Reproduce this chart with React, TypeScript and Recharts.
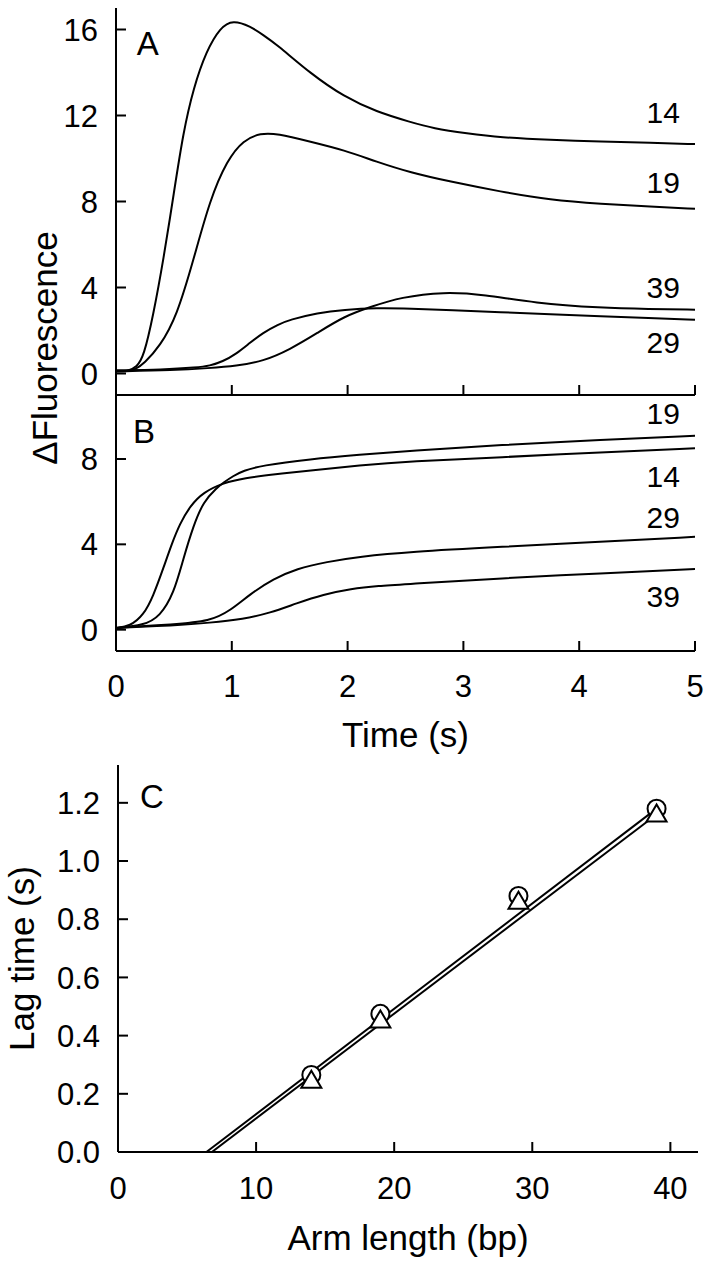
import React from 'react';
import { LineChart, Line, XAxis, YAxis, ReferenceDot, ComposedChart, Scatter } from 'recharts';

const FONT = '"Liberation Sans", Arial, Helvetica, sans-serif';

// ---------- Panel A (time in s, ΔFluorescence) ----------
const tA14 = [0, 0.1, 0.18, 0.24, 0.32, 0.41, 0.5, 0.58, 0.67, 0.78, 0.9, 1.01, 1.16, 1.27, 1.39, 1.68, 1.97, 2.25, 2.54, 2.74, 3.03, 3.32, 3.75, 4.19, 4.62, 5.0];
const fA14 = [0.1, 0.1, 0.3, 0.8, 2.66, 5.3, 8.4, 11.2, 13.3, 15.0, 16.1, 16.45, 16.15, 15.75, 15.3, 13.95, 12.87, 12.17, 11.7, 11.4, 11.17, 10.98, 10.86, 10.78, 10.73, 10.67];

const tA19 = [0, 0.1, 0.17, 0.24, 0.38, 0.525, 0.67, 0.81, 0.96, 1.1, 1.25, 1.39, 1.68, 1.97, 2.25, 2.54, 2.89, 3.32, 3.75, 4.19, 4.62, 5.0];
const fA19 = [0.1, 0.1, 0.2, 0.45, 1.27, 2.66, 5.3, 8.07, 9.93, 10.86, 11.18, 11.16, 10.78, 10.39, 9.85, 9.35, 8.92, 8.46, 8.07, 7.89, 7.76, 7.66];

const tA29 = [0, 0.4, 0.7, 0.81, 0.92, 1.04, 1.15, 1.27, 1.4, 1.5, 1.74, 1.97, 2.25, 2.54, 2.9, 3.32, 3.75, 4.19, 4.6, 5.0];
const fA29 = [0.15, 0.18, 0.28, 0.36, 0.55, 0.92, 1.4, 1.9, 2.28, 2.5, 2.82, 2.97, 3.05, 3.02, 2.95, 2.85, 2.75, 2.66, 2.58, 2.5];

const tA39 = [0, 0.5, 0.8, 1.04, 1.27, 1.5, 1.74, 1.97, 2.2, 2.46, 2.83, 3.18, 3.61, 4.19, 4.6, 5.0];
const fA39 = [0.1, 0.15, 0.25, 0.35, 0.57, 1.11, 1.89, 2.66, 3.1, 3.55, 3.8, 3.67, 3.28, 3.05, 3.0, 2.97];

// ---------- Panel B ----------
const tB14 = [0, 0.12, 0.24, 0.32, 0.41, 0.48, 0.55, 0.64, 0.755, 0.93, 1.1, 1.4, 1.68, 2.1, 2.54, 3.32, 4.19, 5];
const fB14 = [0.08, 0.15, 0.7, 1.55, 2.9, 4.0, 4.95, 5.8, 6.45, 6.88, 7.1, 7.3, 7.46, 7.7, 7.89, 8.08, 8.31, 8.5];

const tB19 = [0, 0.24, 0.38, 0.5, 0.58, 0.67, 0.755, 0.87, 0.93, 1.01, 1.1, 1.25, 1.68, 2.1, 2.54, 3.32, 4.19, 5];
const fB19 = [0.08, 0.2, 0.62, 1.71, 3.3, 4.9, 6.0, 6.65, 6.9, 7.2, 7.45, 7.69, 8.0, 8.2, 8.39, 8.66, 8.89, 9.09];

const tB29 = [0, 0.5, 0.81, 0.99, 1.16, 1.36, 1.56, 1.82, 2.1, 2.54, 3.32, 4.19, 5];
const fB29 = [0.08, 0.25, 0.39, 0.9, 1.68, 2.38, 2.86, 3.18, 3.42, 3.65, 3.88, 4.12, 4.35];

const tB39 = [0, 0.5, 0.81, 1.1, 1.33, 1.56, 1.79, 2.03, 2.26, 2.54, 3.32, 4.19, 5];
const fB39 = [0.08, 0.2, 0.32, 0.5, 0.78, 1.24, 1.65, 1.92, 2.05, 2.14, 2.41, 2.64, 2.84];

// ---------- Panel C ----------
const armLength = [14, 19, 29, 39];
const lagCircle = [0.265, 0.475, 0.88, 1.18];
const lagTriangle = [0.245, 0.452, 0.86, 1.16];
const fitCircleX = [6.4, 39];
const fitCircleY = [0, 1.18];
const fitTriangleX = [6.8, 39];
const fitTriangleY = [0, 1.16];

// ---------- ticks & labels ----------
const timeTicks = [0, 1, 2, 3, 4, 5];
const fluoTicksA = [0, 4, 8, 12, 16];
const fluoTicksB = [0, 4, 8];
const armTicks = [0, 10, 20, 30, 40];
const lagTicks = [0, 0.2, 0.4, 0.6, 0.8, 1.0, 1.2];

const labelsA = [
  { text: '14', t: 4.87, v: 11.65 },
  { text: '19', t: 4.87, v: 8.4 },
  { text: '39', t: 4.87, v: 3.53 },
  { text: '29', t: 4.87, v: 0.97 },
];
const labelsB = [
  { text: '19', t: 4.87, v: 9.65 },
  { text: '14', t: 4.87, v: 6.67 },
  { text: '29', t: 4.87, v: 4.76 },
  { text: '39', t: 4.87, v: 1.07 },
];

const zipTV = (ts: number[], vs: number[]) => ts.map((t, i) => ({ t, v: vs[i] }));
const zipXY = (xs: number[], ys: number[]) => xs.map((x, i) => ({ x, y: ys[i] }));

const seriesA = [zipTV(tA14, fA14), zipTV(tA19, fA19), zipTV(tA29, fA29), zipTV(tA39, fA39)];
const seriesB = [zipTV(tB14, fB14), zipTV(tB19, fB19), zipTV(tB29, fB29), zipTV(tB39, fB39)];

const circleData = zipXY(armLength, lagCircle);
const triangleData = zipXY(armLength, lagTriangle);
const fitCircle = zipXY(fitCircleX, fitCircleY);
const fitTriangle = zipXY(fitTriangleX, fitTriangleY);

const AX = { stroke: '#000', strokeWidth: 2 };

const makeXTick = (showLabel: boolean, labelDy: number) => (p: any) => (
  <g>
    <line x1={p.x} y1={p.y} x2={p.x} y2={p.y - 10} stroke="#000" strokeWidth={2} />
    {showLabel && (
      <text x={p.x} y={p.y + labelDy} textAnchor="middle" fontSize={31} fontFamily={FONT} fill="#000">
        {p.payload.value}
      </text>
    )}
  </g>
);

const makeYTick = (fmt: (v: number) => string) => (p: any) => (
  <g>
    <line x1={p.x} y1={p.y} x2={p.x + 10} y2={p.y} stroke="#000" strokeWidth={2} />
    <text x={p.x - 18} y={p.y} dy="0.36em" textAnchor="end" fontSize={31} fontFamily={FONT} fill="#000">
      {fmt(p.payload.value)}
    </text>
  </g>
);

const TextLabel = (props: any) => {
  const { viewBox, value, anchor, size } = props;
  return (
    <text x={viewBox.x} y={viewBox.y} textAnchor={anchor} fontSize={size} fontFamily={FONT} fill="#000">
      {value}
    </text>
  );
};

const TITLE = 35;

export default function App() {
  return (
    <div style={{ position: 'absolute', left: 0, top: 0, width: 711, height: 1268, background: '#fff' }}>
      {/* Panel A */}
      <div style={{ position: 'absolute', left: 0, top: 0 }}>
        <LineChart width={711} height={400} margin={{ top: 8, right: 16, bottom: 0, left: 0 }}>
          <XAxis dataKey="t" type="number" domain={[0, 5]} ticks={timeTicks} interval={0}
            height={5} tickSize={0} tickMargin={0} tickLine={false} axisLine={AX}
            tick={makeXTick(false, 0)} allowDataOverflow />
          <XAxis xAxisId="top" orientation="top" type="number" domain={[0, 5]} height={0}
            tick={false} tickLine={false} axisLine={AX} />
          <YAxis type="number" domain={[-1, 17]} ticks={fluoTicksA} interval={0} width={116}
            tickSize={0} tickMargin={0} tickLine={false} axisLine={AX} tick={makeYTick((v) => String(v))} allowDataOverflow />
          <YAxis yAxisId="right" orientation="right" type="number" domain={[-1, 17]} width={0}
            tick={false} tickLine={false} axisLine={AX} />
          {seriesA.map((d, i) => (
            <Line key={i} data={d} dataKey="v" type="basis" stroke="#000" strokeWidth={2}
              dot={false} activeDot={false} isAnimationActive={false} />
          ))}
          {labelsA.map((l) => (
            <ReferenceDot key={l.text} x={l.t} y={l.v} r={0} fill="none" stroke="none"
              label={<TextLabel value={l.text} anchor="end" size={30} />} />
          ))}
          <ReferenceDot x={0.18} y={14.8} r={0} fill="none" stroke="none"
            label={<TextLabel value="A" anchor="start" size={33} />} />
        </LineChart>
      </div>

      {/* Panel B */}
      <div style={{ position: 'absolute', left: 0, top: 395 }}>
        <LineChart width={711} height={365} margin={{ top: 0, right: 16, bottom: 0, left: 0 }}>
          <XAxis dataKey="t" type="number" domain={[0, 5]} ticks={timeTicks} interval={0}
            height={109} tickSize={0} tickMargin={0} tickLine={false} axisLine={AX}
            tick={makeXTick(true, 46)} allowDataOverflow />
          <YAxis type="number" domain={[-1, 11]} ticks={fluoTicksB} interval={0} width={116}
            tickSize={0} tickMargin={0} tickLine={false} axisLine={AX} tick={makeYTick((v) => String(v))} allowDataOverflow />
          <YAxis yAxisId="right" orientation="right" type="number" domain={[-1, 11]} width={0}
            tick={false} tickLine={false} axisLine={AX} />
          {seriesB.map((d, i) => (
            <Line key={i} data={d} dataKey="v" type="basis" stroke="#000" strokeWidth={2}
              dot={false} activeDot={false} isAnimationActive={false} />
          ))}
          {labelsB.map((l) => (
            <ReferenceDot key={l.text} x={l.t} y={l.v} r={0} fill="none" stroke="none"
              label={<TextLabel value={l.text} anchor="end" size={30} />} />
          ))}
          <ReferenceDot x={0.147} y={8.76} r={0} fill="none" stroke="none"
            label={<TextLabel value="B" anchor="start" size={33} />} />
        </LineChart>
      </div>

      {/* Panel C */}
      <div style={{ position: 'absolute', left: 0, top: 760 }}>
        <ComposedChart width={711} height={508} margin={{ top: 5, right: 13, bottom: 0, left: 0 }}>
          <XAxis dataKey="x" type="number" domain={[0, 42]} ticks={armTicks} interval={0}
            height={116} tickSize={0} tickMargin={0} tickLine={false} axisLine={AX}
            tick={makeXTick(true, 47)} allowDataOverflow />
          <XAxis xAxisId="top" orientation="top" type="number" domain={[0, 42]} height={0}
            tick={false} tickLine={false} axisLine={AX} />
          <YAxis dataKey="y" type="number" domain={[0, 1.33]} ticks={lagTicks} interval={0} width={118}
            tickSize={0} tickMargin={0} tickLine={false} axisLine={AX}
            tick={makeYTick((v) => v.toFixed(1))} allowDataOverflow />
          <YAxis yAxisId="right" orientation="right" type="number" domain={[0, 1.33]} width={0}
            tick={false} tickLine={false} axisLine={AX} />
          <Line data={fitCircle} dataKey="y" type="linear" stroke="#000" strokeWidth={2}
            dot={false} activeDot={false} isAnimationActive={false} />
          <Line data={fitTriangle} dataKey="y" type="linear" stroke="#000" strokeWidth={2}
            dot={false} activeDot={false} isAnimationActive={false} />
          <Scatter data={circleData} dataKey="y" isAnimationActive={false}
            shape={(p: any) => <circle cx={p.cx} cy={p.cy} r={9} fill="#fff" stroke="#000" strokeWidth={2} />} />
          <Scatter data={triangleData} dataKey="y" isAnimationActive={false}
            shape={(p: any) => (
              <polygon
                points={`${p.cx},${p.cy - 10} ${p.cx - 10},${p.cy + 7} ${p.cx + 10},${p.cy + 7}`}
                fill="#fff" stroke="#000" strokeWidth={2} strokeLinejoin="miter" />
            )} />
          <ReferenceDot x={1.6} y={1.183} r={0} fill="none" stroke="none"
            label={<TextLabel value="C" anchor="start" size={33} />} />
        </ComposedChart>
      </div>

      {/* Axis titles */}
      <svg width={711} height={1268} style={{ position: 'absolute', left: 0, top: 0, pointerEvents: 'none' }}>
        <text x={57} y={348} transform="rotate(-90 57 348)" textAnchor="middle" fontSize={TITLE} fontFamily={FONT} fill="#000">
          ΔFluorescence
        </text>
        <text x={405.5} y={747} textAnchor="middle" fontSize={TITLE} fontFamily={FONT} fill="#000">
          Time (s)
        </text>
        <text x={34} y={958.5} transform="rotate(-90 34 958.5)" textAnchor="middle" fontSize={TITLE} fontFamily={FONT} fill="#000">
          Lag time (s)
        </text>
        <text x={408} y={1250} textAnchor="middle" fontSize={TITLE} fontFamily={FONT} fill="#000">
          Arm length (bp)
        </text>
      </svg>
    </div>
  );
}
